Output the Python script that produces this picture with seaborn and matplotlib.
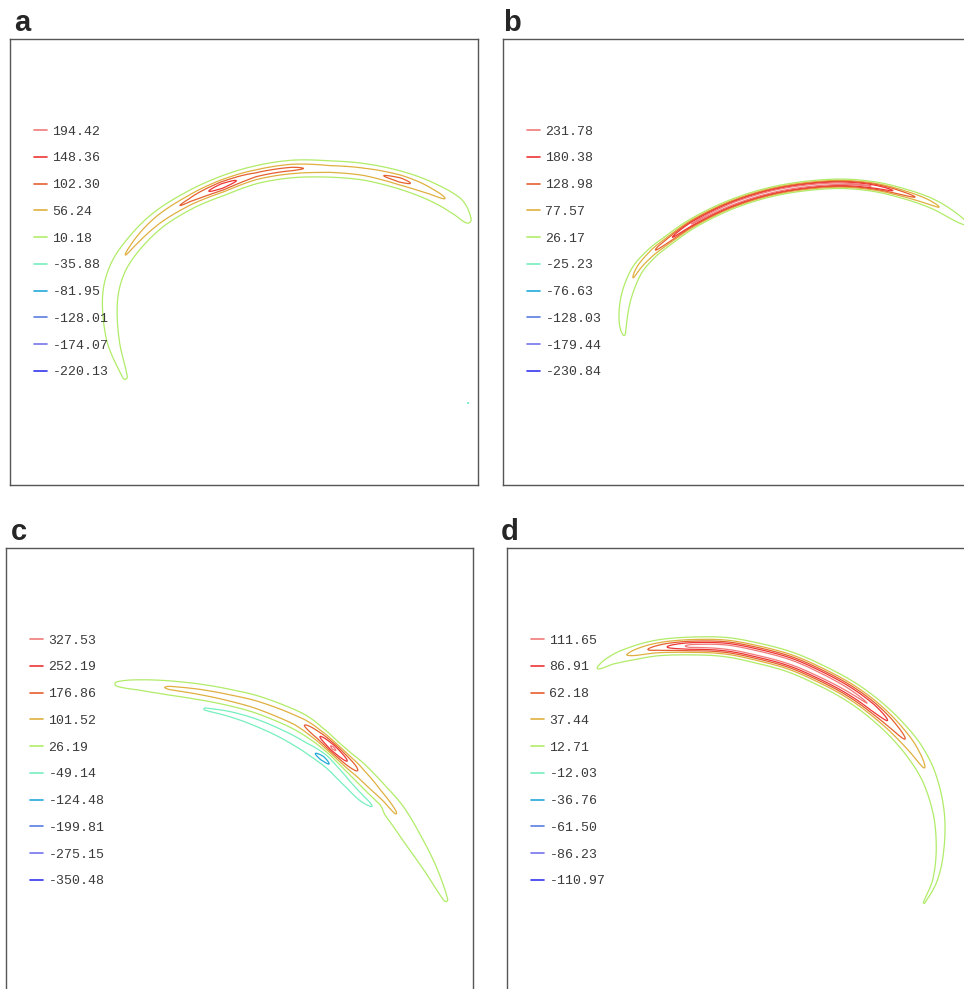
import numpy as np
import matplotlib
matplotlib.use("Agg")
import matplotlib.pyplot as plt
import seaborn as sns
from matplotlib.lines import Line2D

# ---------------- data ----------------
PANEL_NAMES = ["a", "b", "c", "d"]

A_LEVELS = [194.42, 148.36, 102.30, 56.24, 10.18, -35.88, -81.95, -128.01, -174.07, -220.13]
B_LEVELS = [231.78, 180.38, 128.98, 77.57, 26.17, -25.23, -76.63, -128.03, -179.44, -230.84]
C_LEVELS = [327.53, 252.19, 176.86, 101.52, 26.19, -49.14, -124.48, -199.81, -275.15, -350.48]
D_LEVELS = [111.65, 86.91, 62.18, 37.44, 12.71, -12.03, -36.76, -61.50, -86.23, -110.97]

LEVEL_COLORS = ["#f07a7a", "#ee3535", "#e5602f", "#dfb040", "#b0ec68",
                "#76efbe", "#22a9d9", "#5a7de2", "#7676ee", "#3535ee"]

# ridge (positive band) control points, values and widths
A_X = [125, 113, 110, 117, 133, 158, 190, 222, 255, 292, 330, 365, 400, 430, 455, 468]
A_Y = [377, 340, 300, 270, 245, 220, 200, 186, 175, 169, 169, 172, 180, 191, 205, 220]
A_AMP = [12, 22, 32, 48, 62, 85, 110, 175, 115, 112, 80, 85, 118, 70, 45, 14]
A_SIG = [4, 5, 5, 4.6, 4.3, 4.1, 4, 4, 4, 4, 4, 4, 4, 4.5, 5, 4]
A_NX, A_NY, A_NAMP, A_NSIG = [468, 468.5], [403, 403], [-40, -40], [1.0, 1.0]

B_X = [627, 623, 626, 636, 650, 666, 695, 735, 780, 830, 870, 905, 935, 965]
B_Y = [349, 325, 298, 272, 255, 242, 222, 203, 190, 184, 186, 194, 205, 223]
B_AMP = [14, 35, 55, 85, 110, 160, 240, 255, 255, 250, 235, 150, 85, 30]
B_SIG = [4, 4.5, 4.2, 3.5, 3, 2.6, 2.3, 2.2, 2.2, 2.2, 2.3, 2.6, 3, 3.5]

C_X = [117, 140, 170, 200, 230, 260, 297, 318, 333, 346, 360, 378, 395, 412, 430, 446]
C_Y = [684, 685, 688, 692, 698, 706, 721, 735, 748, 760, 773, 792, 812, 838, 868, 900]
C_AMP = [30, 60, 110, 120, 125, 135, 150, 240, 345, 260, 160, 120, 104, 70, 45, 28]
C_SIG = [4, 4, 4.2, 4.5, 4.8, 5, 5, 4, 3.5, 4, 5, 5.5, 6, 6.3, 6, 5]
C_NX = [205, 230, 255, 282, 305, 322, 333, 348, 362, 376]
C_NY = [709, 714, 722, 734, 747, 758, 768, 784, 798, 808]
C_NAMP = [-52, -62, -68, -72, -90, -150, -110, -75, -65, -52]
C_NSIG = [3.5, 4, 4.5, 4.5, 4, 3.5, 3.5, 4, 4.5, 4.5]

D_X = [598, 612, 630, 657, 690, 725, 757, 790, 820, 848, 872, 895, 915, 930, 939, 940, 935, 924]
D_Y = [668, 660, 654, 648, 646, 647, 653, 662, 675, 690, 707, 728, 752, 780, 815, 850, 880, 903]
D_AMP = [13, 22, 40, 72, 118, 125, 125, 125, 122, 118, 110, 75, 48, 30, 22, 18, 15, 13]
D_SIG = [4, 4, 4.2, 4.2, 4.2, 4.5, 4.7, 4.7, 4.7, 4.7, 4.7, 5, 5.5, 5.5, 5.2, 4.5, 4, 3.5]

# ---------------- helpers ----------------
def ridge_samples(xs, ys, amps, sigs, step=0.4):
    P = np.column_stack([xs, ys]).astype(float)
    Pe = np.vstack([2 * P[0] - P[1], P, 2 * P[-1] - P[-2]])
    out_x, out_y, out_a, out_s = [], [], [], []
    idx = np.arange(len(xs))
    for i in range(len(xs) - 1):
        p0, p1, p2, p3 = Pe[i], Pe[i + 1], Pe[i + 2], Pe[i + 3]
        n = max(int(np.ceil(np.hypot(*(p2 - p1)) / step)), 2)
        u = np.linspace(0, 1, n, endpoint=False)[:, None]
        pts = 0.5 * (2 * p1 + (-p0 + p2) * u + (2 * p0 - 5 * p1 + 4 * p2 - p3) * u ** 2
                     + (-p0 + 3 * p1 - 3 * p2 + p3) * u ** 3)
        t = i + u[:, 0]
        out_x.append(pts[:, 0]); out_y.append(pts[:, 1])
        out_a.append(np.interp(t, idx, amps)); out_s.append(np.interp(t, idx, sigs))
    return (np.concatenate(out_x), np.concatenate(out_y),
            np.concatenate(out_a), np.concatenate(out_s))


def tube(gx, gy, xs, ys, amps, sigs):
    F = np.zeros((len(gy), len(gx)))
    sx, sy, sa, ss = ridge_samples(xs, ys, amps, sigs)
    neg = np.mean(amps) < 0
    for px, py, a, s in zip(sx, sy, sa, ss):
        r = 5 * s
        i0, i1 = np.searchsorted(gx, px - r), np.searchsorted(gx, px + r)
        j0, j1 = np.searchsorted(gy, py - r), np.searchsorted(gy, py + r)
        if i1 <= i0 or j1 <= j0:
            continue
        sub = a * np.exp(-(((gx[i0:i1] - px) ** 2)[None, :] + ((gy[j0:j1] - py) ** 2)[:, None]) / (2 * s * s))
        if neg:
            F[j0:j1, i0:i1] = np.minimum(F[j0:j1, i0:i1], sub)
        else:
            F[j0:j1, i0:i1] = np.maximum(F[j0:j1, i0:i1], sub)
    return F

# ---------------- style ----------------
sns.set_style("white", {"axes.edgecolor": "#555555"})
plt.rcParams["font.family"] = ["Liberation Sans", "DejaVu Sans"]
palette = sns.color_palette(LEVEL_COLORS)

W, H = 964, 989
fig = plt.figure(figsize=(W / 100, H / 100), dpi=100)

# axes boxes in reference pixel coords: left, top, width, height
boxes = [(10, 39, 468, 446), (503, 39, 468, 446), (6, 548, 467, 446), (507, 548, 468, 446)]
label_pos = [(14, 31), (503, 31), (11, 540), (501, 540)]
levels_all = [A_LEVELS, B_LEVELS, C_LEVELS, D_LEVELS]
ridges = [(A_X, A_Y, A_AMP, A_SIG), (B_X, B_Y, B_AMP, B_SIG),
          (C_X, C_Y, C_AMP, C_SIG), (D_X, D_Y, D_AMP, D_SIG)]
troughs = [(A_NX, A_NY, A_NAMP, A_NSIG), None, (C_NX, C_NY, C_NAMP, C_NSIG), None]

for k in range(4):
    l, t, w, h = boxes[k]
    ax = fig.add_axes([l / W, 1 - (t + h) / H, w / W, h / H])
    ax.set_xlim(l, l + w)
    ax.set_ylim(t + h, t)
    ax.set_xticks([]); ax.set_yticks([])
    for sp in ax.spines.values():
        sp.set_linewidth(1.0)
        sp.set_color("#555555")

    gx = np.arange(l, l + w + 0.5, 0.5)
    gy = np.arange(t, t + h + 0.5, 0.5)
    F = tube(gx, gy, *ridges[k])
    if troughs[k] is not None:
        F = F + tube(gx, gy, *troughs[k])

    lev = levels_all[k]
    asc_levels = lev[::-1]
    asc_colors = list(palette)[::-1]
    ax.contour(gx, gy, F, levels=asc_levels, colors=asc_colors, linewidths=0.9)

    handles = [Line2D([0], [0], color=c, lw=1.2) for c in palette]
    labels = [f"{v:.2f}" for v in lev]
    ax.legend(handles, labels, loc="upper left",
              bbox_to_anchor=(24 / w, 1 - 86.5 / h), frameon=False,
              prop={"family": "Liberation Mono", "size": 9.5},
              handlelength=1.0, handletextpad=0.4, labelspacing=1.1,
              borderpad=0, borderaxespad=0, labelcolor="#3a3a3a")

    fig.text(label_pos[k][0] / W, 1 - label_pos[k][1] / H, PANEL_NAMES[k],
             fontsize=21, fontweight="bold", va="baseline", ha="left",
             family=["Liberation Sans", "DejaVu Sans"])

fig.savefig("out.png", dpi=100)
